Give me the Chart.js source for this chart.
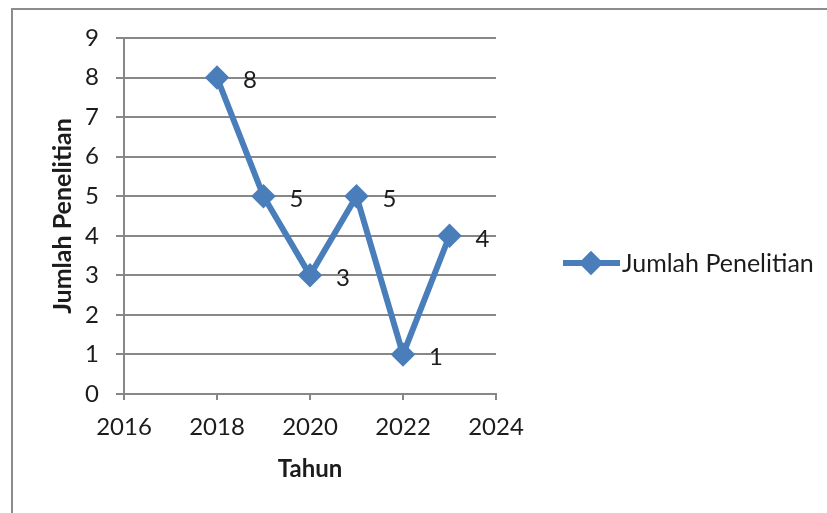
<!DOCTYPE html>
<html>
<head>
<meta charset="utf-8">
<script src="https://cdn.jsdelivr.net/npm/chart.js@4.4.1/dist/chart.umd.min.js"></script>
<style>
  html, body { margin: 0; padding: 0; background: #fff; }
  #frame { position: absolute; left: 11px; top: 8px; width: 900px; height: 600px;
           border-left: 2px solid #8c8c8c; border-top: 2px solid #8c8c8c; }
  #wrap { position: absolute; left: 0; top: 0; width: 827px; height: 513px; }
</style>
</head>
<body>
<div id="frame"></div>
<div id="wrap"><canvas id="grafik"></canvas></div>
<script>
const tahun = [2018, 2019, 2020, 2021, 2022, 2023];
const jumlah = [8, 5, 3, 5, 1, 4];
const namaSeri = 'Jumlah Penelitian';
const judulX = 'Tahun';
const judulY = 'Jumlah Penelitian';

const biru = '#4a7ebb';
const abu = '#878787';
const teks = '#1c1c1c';
const huruf = 'Lato, "Open Sans", sans-serif';

Chart.defaults.font.family = huruf;
Chart.defaults.color = teks;

// label angka di kanan setiap titik
const labelTitik = {
    id: 'labelTitik',
    afterDatasetsDraw(chart) {
        const c = chart.ctx;
        const meta = chart.getDatasetMeta(0);
        c.save();
        c.font = '24px ' + huruf;
        c.fillStyle = teks;
        c.textAlign = 'center';
        c.textBaseline = 'middle';
        meta.data.forEach((el, i) => {
            c.fillText(String(jumlah[i]), el.x + 33, el.y + 3);
        });
        c.restore();
    }
};

// legenda di kanan, gaya Excel
const legendaKanan = {
    id: 'legendaKanan',
    afterDraw(chart) {
        const c = chart.ctx;
        const ds = chart.data.datasets[0];
        const y = 263;
        c.save();
        c.strokeStyle = ds.borderColor;
        c.lineWidth = ds.borderWidth;
        c.beginPath();
        c.moveTo(563, y);
        c.lineTo(620, y);
        c.stroke();
        Chart.helpers.drawPoint(c, { pointStyle: 'rectRot', radius: 8, borderWidth: 1 }, 591, y);
        c.fillStyle = ds.pointBackgroundColor;
        c.fill();
        c.font = '25px ' + huruf;
        c.fillStyle = teks;
        c.textAlign = 'left';
        c.textBaseline = 'middle';
        c.fillText(ds.label, 622, y + 1);
        c.restore();
    }
};

new Chart(document.getElementById('grafik'), {
    type: 'line',
    data: {
        datasets: [{
            label: namaSeri,
            data: tahun.map((t, i) => ({ x: t, y: jumlah[i] })),
            borderColor: biru,
            backgroundColor: biru,
            pointBackgroundColor: biru,
            pointBorderColor: biru,
            borderWidth: 6,
            pointStyle: 'rectRot',
            pointRadius: 8,
            pointHoverRadius: 8,
            tension: 0,
            fill: false
        }]
    },
    options: {
        responsive: true,
        maintainAspectRatio: false,
        animation: false,
        layout: { padding: { top: 38, right: 331, left: 0, bottom: 0 } },
        plugins: {
            legend: { display: false },
            tooltip: { enabled: false }
        },
        scales: {
            x: {
                type: 'linear',
                min: 2016,
                max: 2024,
                afterFit: (s) => { s.height = 119; },
                ticks: {
                    stepSize: 2,
                    padding: 13,
                    maxRotation: 0,
                    font: { size: 24 },
                    color: teks,
                    callback: (v) => String(v)
                },
                grid: { drawOnChartArea: false, drawTicks: true, tickLength: 6, color: abu, lineWidth: 2 },
                border: { color: abu, width: 2 },
                title: {
                    display: true,
                    text: judulX,
                    font: { size: 24, weight: 'bold' },
                    color: teks,
                    padding: { top: 0, bottom: 29 }
                }
            },
            y: {
                min: 0,
                max: 9,
                afterFit: (s) => { s.width = 124; },
                ticks: {
                    stepSize: 1,
                    padding: 17,
                    font: { size: 24 },
                    color: teks
                },
                grid: { color: abu, lineWidth: 2, tickLength: 8 },
                border: { color: abu, width: 2 },
                title: {
                    display: true,
                    text: judulY,
                    font: { size: 25, weight: 'bold' },
                    color: teks,
                    padding: { top: 48, bottom: 0 }
                }
            }
        }
    },
    plugins: [labelTitik, legendaKanan]
});
</script>
</body>
</html>
